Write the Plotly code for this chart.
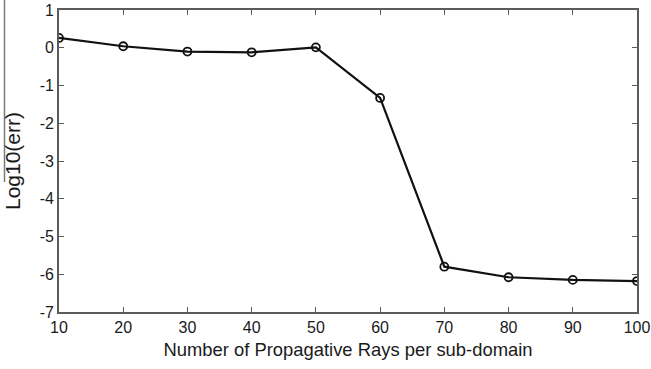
import plotly.graph_objects as go

# Number of propagative rays per sub-domain and the resulting log10 error
rays = [10, 20, 30, 40, 50, 60, 70, 80, 90, 100]
log_err = [0.26, 0.04, -0.10, -0.12, 0.01, -1.33, -5.80, -6.08, -6.15, -6.18]

x_ticks = [10, 20, 30, 40, 50, 60, 70, 80, 90, 100]
y_ticks = [-7, -6, -5, -4, -3, -2, -1, 0, 1]

W, H = 651, 369
ml, mr, mt, mb = 59, 14, 10, 57

fig = go.Figure()
fig.add_trace(go.Scatter(
    x=rays, y=log_err, mode="lines+markers",
    line=dict(color="#111111", width=2.2),
    marker=dict(symbol="circle-open", size=8, color="#111111",
                line=dict(width=1.8, color="#111111")),
    showlegend=False,
))

axis_common = dict(
    showline=True, linecolor="#5a5a5a", linewidth=1.6, mirror="ticks",
    ticks="inside", ticklen=5, tickwidth=1, tickcolor="#5a5a5a",
    showgrid=False, zeroline=False, automargin=False,
    tickfont=dict(family="Liberation Sans, Arial", size=16, color="#1a1a1a"),
)

fig.update_xaxes(
    range=[10, 100], tickvals=x_ticks, ticktext=[str(v) for v in x_ticks],
    title=dict(text="Number of Propagative Rays per sub-domain",
               font=dict(family="Liberation Sans, Arial", size=18.4, color="#1a1a1a"),
               standoff=8),
    **axis_common,
)
fig.update_yaxes(
    range=[-7, 1], tickvals=y_ticks, ticktext=[str(v) for v in y_ticks],
    title=dict(text="Log10(err)",
               font=dict(family="Liberation Sans, Arial", size=21, color="#1a1a1a"),
               standoff=13),
    **axis_common,
)

# thin gray rule along the left edge of the figure
plot_w = W - ml - mr
plot_h = H - mt - mb
fig.add_shape(
    type="line", xref="paper", yref="paper",
    x0=(4.5 - ml) / plot_w, x1=(4.5 - ml) / plot_w,
    y0=(H - mb - 182) / plot_h, y1=(H - mb) / plot_h,
    line=dict(color="#7a7a7a", width=1.5),
)

fig.update_layout(
    width=W, height=H,
    margin=dict(l=ml, r=mr, t=mt, b=mb, autoexpand=False),
    paper_bgcolor="white", plot_bgcolor="white",
)

fig.write_html("out.html")
